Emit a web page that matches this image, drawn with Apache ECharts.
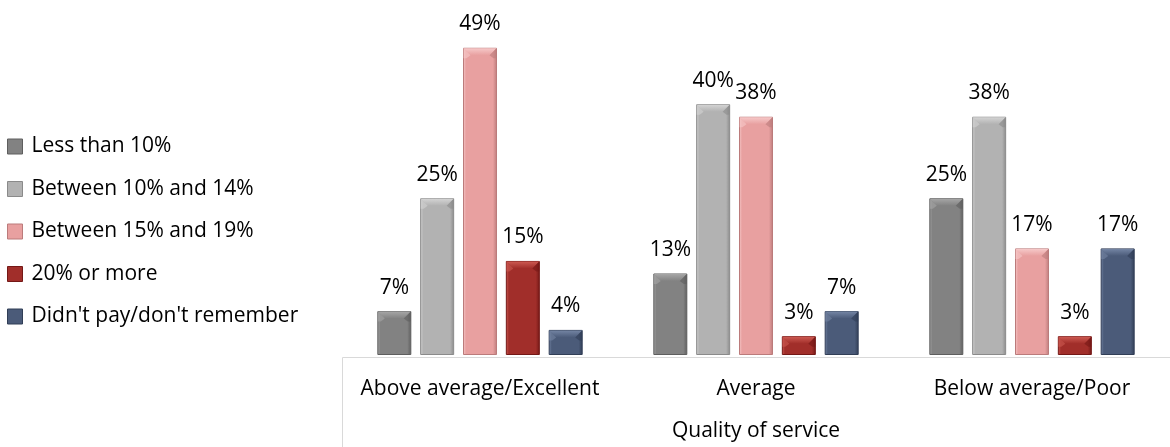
<!DOCTYPE html>
<html>
<head>
<meta charset="utf-8">
<script src="https://cdn.jsdelivr.net/npm/echarts@6/dist/echarts.min.js"></script>
<style>
  html, body { margin: 0; padding: 0; background: #fff; }
  #chart { width: 1170px; height: 447px; }
</style>
</head>
<body>
<div id="chart"></div>
<script>
// Tip share by perceived quality of service
const categories = ['Above average/Excellent', 'Average', 'Below average/Poor'];
const seriesNames = ['Less than 10%', 'Between 10% and 14%', 'Between 15% and 19%', '20% or more', "Didn't pay/don't remember"];
const lessThan10 = [7, 13, 25];
const between10and14 = [25, 40, 38];
const between15and19 = [49, 38, 17];
const twentyOrMore = [15, 3, 3];
const didntPay = [4, 7, 17];
const seriesValues = [lessThan10, between10and14, between15and19, twentyOrMore, didntPay];

// base, highlight and shadow tones per series
const tones = [
  ['#828282', '#a6a6a6', '#5e5e5e'],
  ['#b2b2b2', '#d4d4d4', '#8a8a8a'],
  ['#e8a0a0', '#f6c9c9', '#bb7b7b'],
  ['#a12e2a', '#cd5a52', '#741816'],
  ['#4b5b79', '#7485a4', '#313e56']
];

const FONT = 'Open Sans';
const FS = 21;
const BAR_W = 34;
const GAP_RATIO = 0.26;
const BEVEL = 7;

function bodyFill(t) {
  return {
    type: 'linear', x: 0, y: 0, x2: 1, y2: 0,
    colorStops: [
      { offset: 0, color: t[1] },
      { offset: 0.09, color: t[0] },
      { offset: 0.88, color: t[0] },
      { offset: 1, color: t[2] }
    ]
  };
}

// bevel facets drawn over each bar's top edge
function bevelSeries(i) {
  const step = BAR_W * (1 + GAP_RATIO);
  const offset = (i - (seriesNames.length - 1) / 2) * step;
  const t = tones[i];
  return {
    type: 'custom',
    name: seriesNames[i] + ' bevel',
    silent: true,
    z: 3,
    data: seriesValues[i].map((v, j) => [j, v]),
    renderItem(params, api) {
      const top = api.coord([api.value(0), api.value(1)]);
      const base = api.coord([api.value(0), 0]);
      const cx = top[0] + offset;
      const x0 = cx - BAR_W / 2 + 0.5, x1 = cx + BAR_W / 2 - 0.5;
      const y0 = top[1] + 0.5, y1 = base[1];
      const b = Math.min(BEVEL, (y1 - y0) / 2);
      return {
        type: 'group',
        children: [
          {
            type: 'polygon',
            shape: { points: [[x0, y0], [x1, y0], [x1 - b, y0 + b], [x0 + b, y0 + b]] },
            style: {
              fill: {
                type: 'linear', x: 0, y: 0, x2: 0, y2: 1,
                colorStops: [{ offset: 0, color: t[1] }, { offset: 1, color: t[0] }]
              }
            }
          },
          {
            type: 'polygon',
            shape: { points: [[x0, y0], [x0 + b, y0 + b], [x0 + 3, y0 + b + 3], [x0, y0 + b + 3]] },
            style: { fill: t[1], opacity: 0.6 }
          },
          {
            type: 'polygon',
            shape: { points: [[x1, y0], [x1 - b, y0 + b], [x1 - 3, y0 + b + 3], [x1, y0 + b + 3]] },
            style: { fill: t[2], opacity: 0.6 }
          }
        ]
      };
    }
  };
}

const chart = echarts.init(document.getElementById('chart'));
chart.setOption({
  animation: false,
  textStyle: { fontFamily: FONT },
  legend: {
    orient: 'vertical',
    left: 2,
    top: 131,
    itemGap: 21.5,
    itemWidth: 15,
    itemHeight: 15,
    icon: 'rect',
    textStyle: { fontSize: FS, color: '#000', fontFamily: FONT, padding: [0, 0, 0, 4] },
    data: seriesNames.map((n, i) => ({
      name: n,
      itemStyle: { color: tones[i][0], borderColor: tones[i][2], borderWidth: 1 }
    }))
  },
  grid: { left: 342, right: 0, top: 41.5, bottom: 90 },
  xAxis: {
    type: 'category',
    data: categories,
    axisLine: { show: false },
    axisTick: { show: false },
    axisLabel: { interval: 0, fontSize: FS, color: '#000', margin: 24, fontFamily: FONT },
    name: 'Quality of service',
    nameLocation: 'middle',
    nameGap: 66,
    nameTextStyle: { fontSize: FS, color: '#000', fontFamily: FONT }
  },
  yAxis: {
    type: 'value', min: 0, max: 50, show: false,
    splitLine: { show: false }
  },
  // frame around the category label area
  graphic: [{
    type: 'rect',
    shape: { x: 342.5, y: 357.5, width: 840, height: 100 },
    style: { fill: 'none', stroke: '#d9d9d9', lineWidth: 1 },
    silent: true
  }],
  series: seriesNames.map((name, i) => ({
    name,
    type: 'bar',
    data: seriesValues[i],
    barWidth: BAR_W,
    barGap: (GAP_RATIO * 100) + '%',
    itemStyle: { color: bodyFill(tones[i]), borderColor: tones[i][2], borderWidth: 1 },
    label: {
      show: true,
      position: 'top',
      distance: 13,
      formatter: '{c}%',
      fontSize: FS,
      color: '#000',
      fontFamily: FONT
    }
  })).concat(seriesNames.map((n, i) => bevelSeries(i)))
});
</script>
</body>
</html>
